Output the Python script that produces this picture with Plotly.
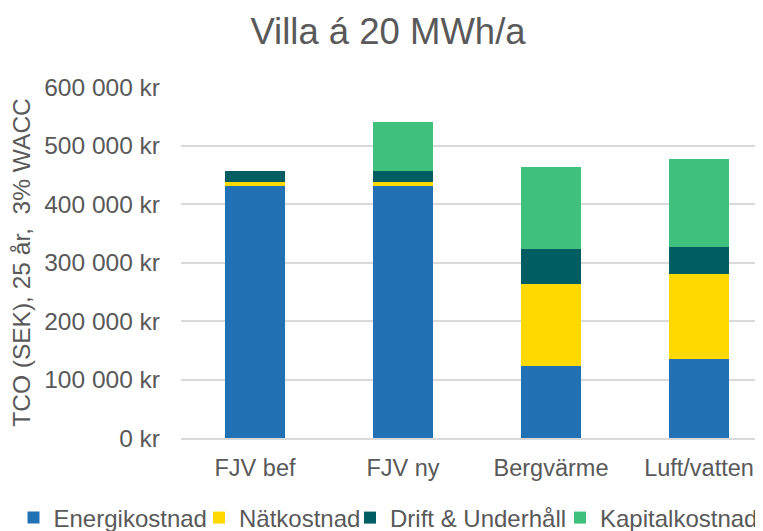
import plotly.graph_objects as go

categories = ["FJV bef", "FJV ny", "Bergvärme", "Luft/vatten"]
energikostnad = [430000, 430000, 123000, 135000]
natkostnad = [7500, 7500, 141000, 146000]
drift_underhall = [18500, 18500, 59000, 46000]
kapitalkostnad = [0, 84500, 140000, 150000]
y_ticks = [0, 100000, 200000, 300000, 400000, 500000, 600000]
y_tick_labels = ["0 kr", "100 000 kr", "200 000 kr", "300 000 kr", "400 000 kr", "500 000 kr", "600 000 kr"]

series = [
    ("Energikostnad", energikostnad, "#2271B5", "legend"),
    ("Nätkostnad", natkostnad, "#FFD900", "legend2"),
    ("Drift & Underhåll", drift_underhall, "#005E62", "legend3"),
    ("Kapitalkostnad", kapitalkostnad, "#3FC17D", "legend4"),
]

fig = go.Figure()
for name, vals, col, lg in series:
    fig.add_trace(go.Bar(x=categories, y=vals, name=name, legend=lg,
                         marker=dict(color=col, line=dict(width=0))))

W, H = 763, 531
OFF = 8  # page body margin offset
left, top = 181 - OFF, 86.7 - OFF
bottom = H - (438.5 - OFF)

legend_x = [25.5, 211, 362, 572]  # symbol centres (figure px)
leg_y = 1 - (518 - OFF) / H

def leg(xc):
    return dict(orientation="h", x=(xc - 20) / W, xref="container", xanchor="left",
                y=leg_y, yref="container", yanchor="middle",
                font=dict(size=24, color="#595959"), bgcolor="rgba(0,0,0,0)",
                borderwidth=0, itemwidth=30)

fig.update_layout(
    width=W, height=H,
    barmode="stack", bargap=0.6,
    paper_bgcolor="white", plot_bgcolor="white",
    font=dict(family="Liberation Sans, Arial", color="#595959", size=23),
    margin=dict(l=left, r=0, t=top, b=bottom, autoexpand=False),
    title=dict(text="Villa á 20 MWh/a", x=(388 - OFF) / W, xref="container", xanchor="center",
               y=1 - (31 - OFF) / H, yref="container", yanchor="middle",
               font=dict(size=36.5, color="#595959")),
    legend=leg(legend_x[0]),
    legend2=leg(legend_x[1]),
    legend3=leg(legend_x[2]),
    legend4=leg(legend_x[3]),
    showlegend=True,
)
plot_w = W - left
fig.update_xaxes(range=[-0.5, -0.5 + plot_w / 148.0], showgrid=False, showline=True,
                 linecolor="#D9D9D9", linewidth=1.5, ticks="",
                 tickfont=dict(size=23.5), ticklabelstandoff=8)
fig.update_yaxes(range=[0, 600000], tickvals=y_ticks, ticktext=y_tick_labels,
                 showgrid=True, gridcolor="#D9D9D9", gridwidth=1.5, zeroline=False,
                 showline=False, ticks="", tickfont=dict(size=24.5), ticklabelstandoff=20,
                 title=dict(text="TCO (SEK), 25 år,  3% WACC", font=dict(size=24.5), standoff=10))

fig.write_html("out.html")
